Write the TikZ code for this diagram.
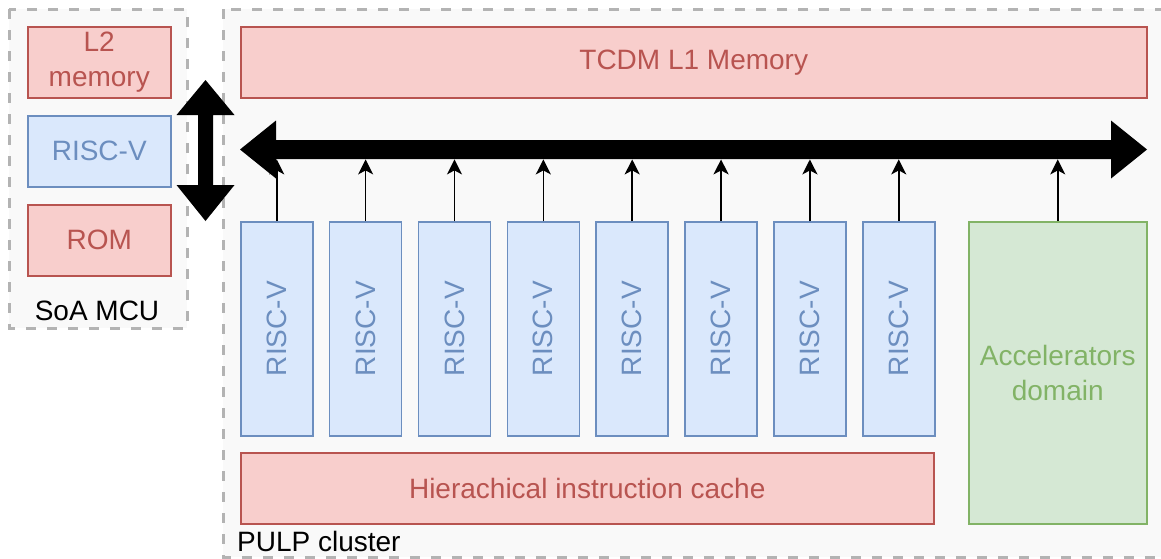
\documentclass[tikz,border=0pt]{standalone}
\usepackage{fontspec}
\setmainfont{Liberation Sans}
\usetikzlibrary{arrows.meta}
\definecolor{rfill}{HTML}{F8CECC}
\definecolor{rline}{HTML}{B85450}
\definecolor{bfill}{HTML}{DAE8FC}
\definecolor{bline}{HTML}{6C8EBF}
\definecolor{gfill}{HTML}{D5E8D4}
\definecolor{gline}{HTML}{82B366}
\definecolor{cfill}{HTML}{F9F9F9}
\definecolor{cline}{HTML}{B3B3B3}
\tikzset{
  base/.style={draw, line width=1.5pt, inner sep=0pt, anchor=north west, align=center, font=\fontsize{28}{35}\selectfont},
  redbox/.style={base, fill=rfill, draw=rline, text=rline},
  bluebox/.style={base, fill=bfill, draw=bline, text=bline},
  greenbox/.style={base, fill=gfill, draw=gline, text=gline},
  container/.style={fill=cfill, draw=cline, line width=3pt, dash pattern=on 10pt off 11pt},
  corearrow/.style={line width=1.6pt, -{Stealth[length=15pt,width=15pt,inset=4pt]}},
  lbl/.style={font=\fontsize{28}{33}\selectfont, text=black, inner sep=0pt}
}
\begin{document}
\begin{tikzpicture}[x=1pt,y=-1pt]
\useasboundingbox (0,0) rectangle (1161,558);
% containers
\begin{scope}
\clip (0,0) rectangle (1161,558);
\path[container] (9,9) rectangle (187,328);
\path[container] (223,9) rectangle (1175,557);
\end{scope}
\node[lbl, anchor=base] (soalbl) at (97,320) {SoA MCU};
\node[lbl, anchor=base west] (pulplbl) at (237,551) {PULP cluster};
% SoA MCU boxes
\node[redbox, minimum width=143pt, minimum height=71pt] (l2) at (27,26) {L2\\memory};
\node[bluebox, minimum width=143pt, minimum height=71pt] (mcucore) at (27,115) {RISC-V};
\node[redbox, minimum width=143pt, minimum height=71pt] (rom) at (27,204) {ROM};
% PULP
\node[redbox, minimum width=906pt, minimum height=71pt] (tcdm) at (240,26) {\raisebox{-2pt}{TCDM L1 Memory}};
\node[redbox, minimum width=693pt, minimum height=71pt] (cache) at (240,452) {Hierachical instruction cache};
\node[greenbox, minimum width=178pt, minimum height=302pt] (acc) at (968,221) {Accelerators\\domain};
% bus (horizontal double arrow)
\node[inner sep=0pt, minimum width=907pt, minimum height=19pt, anchor=north west] (bus) at (240,140) {};
\fill[black] (240,149.5) -- (276,120.5) -- (276,140) -- (1111,140) -- (1111,120.5) -- (1147,149.5)
  -- (1111,178.5) -- (1111,159) -- (276,159) -- (276,178.5) -- cycle;
% vertical double arrow
\fill[black] (205.5,80) -- (234.5,115) -- (213,115) -- (213,185) -- (234.5,185) -- (205.5,221)
  -- (176.5,185) -- (198,185) -- (198,115) -- (176.5,115) -- cycle;
% cores
\foreach \i in {1,...,8} {
  \node[bluebox, minimum width=72pt, minimum height=214pt] (core\i) at ({240+88.86*(\i-1)},221) {};
  \node[text=bline, rotate=90, font=\fontsize{28}{33}\selectfont, inner sep=0pt] (corelbl\i) at (core\i.center) {RISC-V};
  \draw[corearrow] (core\i.north) -- (core\i.north |- bus.south);
}
\draw[corearrow] (acc.north) -- (acc.north |- bus.south);
\end{tikzpicture}
\end{document}
